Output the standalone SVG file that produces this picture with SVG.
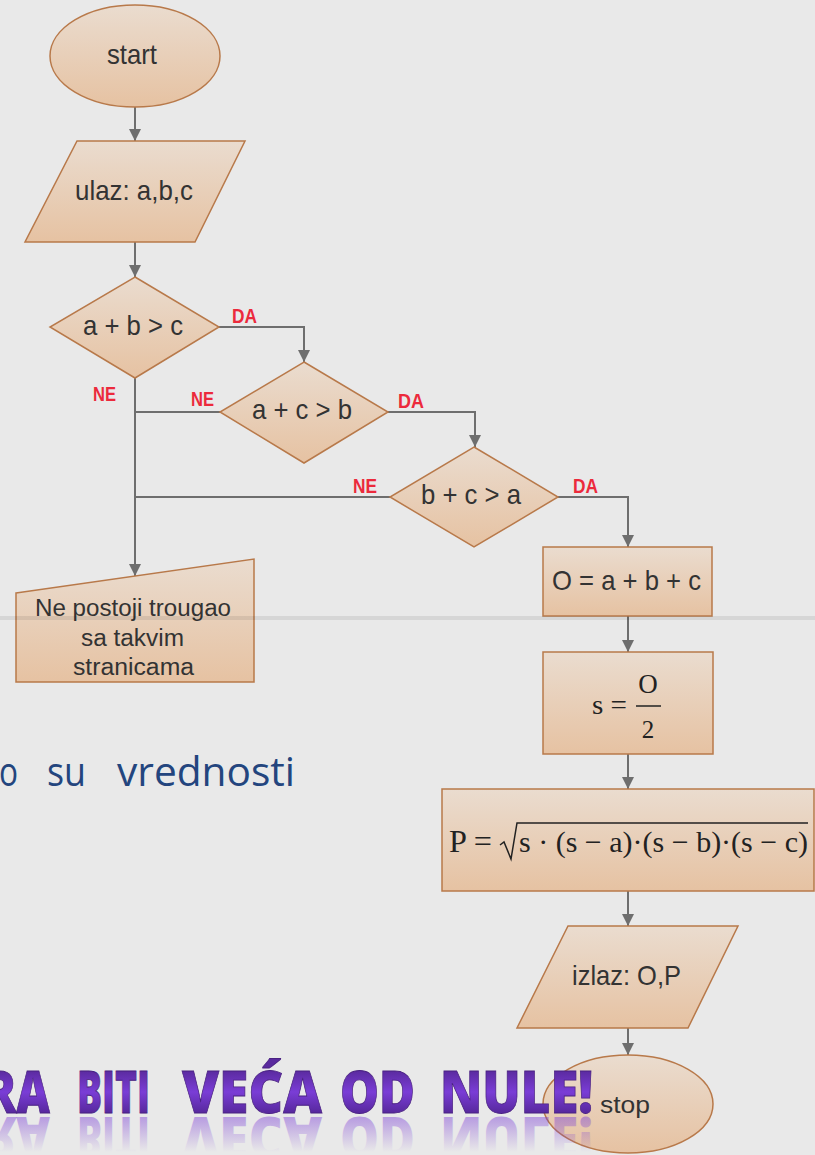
<svg xmlns="http://www.w3.org/2000/svg" xmlns:xlink="http://www.w3.org/1999/xlink" width="815" height="1155" viewBox="0 0 815 1155">
  <style>
    .node { fill: url(#nodeFill); stroke: #b8794a; stroke-width: 1.5; }
    .lbl { font-family: "Liberation Sans", Arial, sans-serif; font-size: 28px; fill: #333; }
    .small { font-size: 23px; }
    .yn { font-family: "Liberation Sans", Arial, sans-serif; font-size: 21px; font-weight: bold; fill: #ec2a3c; }
    .math { font-family: "Liberation Serif", "Times New Roman", serif; fill: #222; }
    .wire { fill: none; stroke: #6e6e6e; stroke-width: 2; }
    .arrow { marker-end: url(#head); }
    .slide { font-family: "Open Sans", sans-serif; font-size: 40px; fill: #23457e; }
    .big { font-family: "Open Sans", sans-serif; font-size: 58px; font-weight: 800; }
  </style>
  <defs>
    <linearGradient id="nodeFill" x1="0" y1="0" x2="0" y2="1">
      <stop offset="0" stop-color="#eadccf"/>
      <stop offset="1" stop-color="#e6c2a2"/>
    </linearGradient>
    <linearGradient id="purple" gradientUnits="userSpaceOnUse" x1="0" y1="1070" x2="0" y2="1114">
      <stop offset="0" stop-color="#5a2a9e"/>
      <stop offset="0.5" stop-color="#7a3dd6"/>
      <stop offset="1" stop-color="#55279a"/>
    </linearGradient>
    <linearGradient id="mirror" gradientUnits="userSpaceOnUse" x1="0" y1="1113" x2="0" y2="1078">
      <stop offset="0" stop-color="#7a3dd6" stop-opacity="0.45"/>
      <stop offset="1" stop-color="#7a3dd6" stop-opacity="0"/>
    </linearGradient>
    <marker id="head" markerUnits="userSpaceOnUse" markerWidth="12" markerHeight="12" refX="12" refY="6" orient="auto">
      <path d="M0,0 L12,6 L0,12 z" fill="#6e6e6e"/>
    </marker>
    <!-- heading words, drawn twice: upright and mirrored -->
    <g id="headWords">
      <text class="big" x="-15" y="1113" textLength="65" lengthAdjust="spacingAndGlyphs">RA</text>
      <text class="big" x="77" y="1113" textLength="73" lengthAdjust="spacingAndGlyphs">BITI</text>
      <text class="big" x="182" y="1113" textLength="140" lengthAdjust="spacingAndGlyphs">VEĆA</text>
      <text class="big" x="340" y="1113" textLength="75" lengthAdjust="spacingAndGlyphs">OD</text>
      <text class="big" x="440" y="1113" textLength="153" lengthAdjust="spacingAndGlyphs">NULE!</text>
    </g>
  </defs>

  <!-- backdrop -->
  <rect width="815" height="1155" fill="#e9e9e9"/>

  <!-- slide body text behind the chart -->
  <g id="slide-text">
    <text class="slide" x="-1" y="786" textLength="19" lengthAdjust="spacingAndGlyphs">o</text>
    <text class="slide" x="47" y="786" textLength="39" lengthAdjust="spacingAndGlyphs">su</text>
    <text class="slide" x="117" y="786" textLength="178" lengthAdjust="spacingAndGlyphs">vrednosti</text>
  </g>

  <!-- connectors -->
  <g id="connectors">
    <path class="wire arrow" d="M135,107 V141"/>
    <path class="wire arrow" d="M135,242 V277"/>
    <path class="wire arrow" d="M219,327 H304 V362"/>
    <path class="wire arrow" d="M388,412 H475 V447"/>
    <path class="wire arrow" d="M558,497 H628 V547"/>
    <path class="wire arrow" d="M135,378 V576"/>
    <path class="wire" d="M220,412 H135"/>
    <path class="wire" d="M390,497 H135"/>
    <path class="wire arrow" d="M628,616 V652"/>
    <path class="wire arrow" d="M628,754 V789"/>
    <path class="wire arrow" d="M628,891 V926"/>
    <path class="wire arrow" d="M628,1028 V1055"/>
    <text class="yn" x="232" y="323" textLength="25" lengthAdjust="spacingAndGlyphs">DA</text>
    <text class="yn" x="93" y="401" textLength="23" lengthAdjust="spacingAndGlyphs">NE</text>
    <text class="yn" x="191" y="406" textLength="23" lengthAdjust="spacingAndGlyphs">NE</text>
    <text class="yn" x="398" y="408" textLength="26" lengthAdjust="spacingAndGlyphs">DA</text>
    <text class="yn" x="353" y="493" textLength="24" lengthAdjust="spacingAndGlyphs">NE</text>
    <text class="yn" x="573" y="493" textLength="25" lengthAdjust="spacingAndGlyphs">DA</text>
  </g>

  <g id="start">
    <ellipse class="node" cx="135" cy="56" rx="85" ry="51"/>
    <text class="lbl" x="107" y="64" textLength="50" lengthAdjust="spacingAndGlyphs">start</text>
  </g>

  <g id="input">
    <polygon class="node" points="77,141 245,141 195,242 25,242"/>
    <text class="lbl" x="75" y="200" textLength="118" lengthAdjust="spacingAndGlyphs">ulaz: a,b,c</text>
  </g>

  <g id="check-ab">
    <polygon class="node" points="135,277 219,327 135,378 50,327"/>
    <text class="lbl" x="83" y="335" textLength="100" lengthAdjust="spacingAndGlyphs">a + b &gt; c</text>
  </g>

  <g id="check-ac">
    <polygon class="node" points="304,362 388,412 304,463 220,412"/>
    <text class="lbl" x="252" y="419" textLength="100" lengthAdjust="spacingAndGlyphs">a + c &gt; b</text>
  </g>

  <g id="check-bc">
    <polygon class="node" points="474,447 558,497 474,547 390,497"/>
    <text class="lbl" x="421" y="504" textLength="100" lengthAdjust="spacingAndGlyphs">b + c &gt; a</text>
  </g>

  <g id="no-triangle">
    <polygon class="node" points="16,593 254,559 254,682 16,682"/>
    <text class="lbl small" x="35" y="616" textLength="196" lengthAdjust="spacingAndGlyphs">Ne postoji trougao</text>
    <text class="lbl small" x="81" y="646" textLength="103" lengthAdjust="spacingAndGlyphs">sa takvim</text>
    <text class="lbl small" x="73" y="675" textLength="121" lengthAdjust="spacingAndGlyphs">stranicama</text>
  </g>

  <g id="perimeter">
    <rect class="node" x="543" y="547" width="169" height="69"/>
    <text class="lbl" x="552" y="590" textLength="149" lengthAdjust="spacingAndGlyphs">O = a + b + c</text>
  </g>

  <g id="half-perimeter">
    <rect class="node" x="543" y="652" width="170" height="102"/>
    <text class="math" x="592" y="714" font-size="28" textLength="35" lengthAdjust="spacingAndGlyphs">s =</text>
    <text class="math" x="648" y="693" font-size="27" text-anchor="middle">O</text>
    <line x1="636" y1="706" x2="661" y2="706" stroke="#222" stroke-width="1.5"/>
    <text class="math" x="648" y="738" font-size="25" text-anchor="middle">2</text>
  </g>

  <g id="area">
    <rect class="node" x="442" y="789" width="372" height="102"/>
    <text class="math" x="449" y="852" font-size="32" textLength="43" lengthAdjust="spacingAndGlyphs">P =</text>
    <path d="M500,845 L504,842 L511,859 L517,823 H808" fill="none" stroke="#222" stroke-width="1.5"/>
    <text class="math" x="519" y="852" font-size="30" textLength="289" lengthAdjust="spacingAndGlyphs">s · (s − a)·(s − b)·(s − c)</text>
  </g>

  <g id="output">
    <polygon class="node" points="568,926 738,926 688,1028 517,1028"/>
    <text class="lbl" x="572" y="985" textLength="109" lengthAdjust="spacingAndGlyphs">izlaz: O,P</text>
  </g>

  <g id="stop">
    <ellipse class="node" cx="628" cy="1104" rx="85" ry="49"/>
  </g>

  <!-- slide heading with its reflection -->
  <g id="heading">
    <use xlink:href="#headWords" href="#headWords" fill="url(#mirror)" transform="translate(0,2230) scale(1,-1)"/>
    <use xlink:href="#headWords" href="#headWords" fill="url(#purple)" stroke="#4a2282" stroke-width="0.8"/>
  </g>

  <text id="stop-label" class="lbl small" x="600" y="1113" textLength="50" lengthAdjust="spacingAndGlyphs">stop</text>

  <!-- faint divider band across the slide -->
  <rect x="0" y="616" width="815" height="4" fill="#000" fill-opacity="0.08"/>
</svg>
